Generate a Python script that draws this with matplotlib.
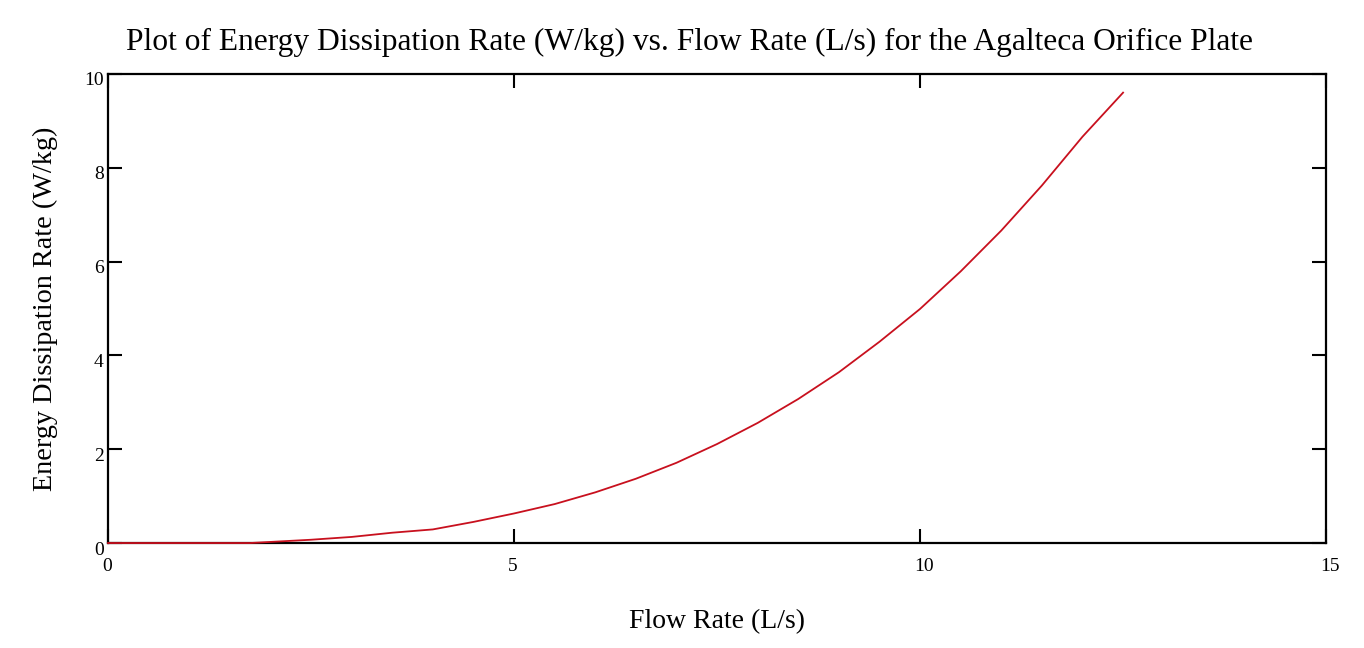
import numpy as np
import matplotlib
matplotlib.use('Agg')
import matplotlib.pyplot as plt
from matplotlib.transforms import ScaledTranslation

# values
flow = [0, 1.75, 2.5, 3, 3.5, 4, 4.5, 5, 5.5, 6, 6.5, 7, 7.5, 8, 8.5,
        9, 9.5, 10, 10.5, 11, 11.5, 12, 12.5]
edr = [0, 0, 0.07, 0.13, 0.22, 0.29, 0.45, 0.63, 0.83, 1.08, 1.37, 1.71,
       2.11, 2.56, 3.07, 3.64, 4.29, 4.99, 5.79, 6.66, 7.62, 8.66, 9.6]

xticks = [0, 5, 10, 15]
yticks = [0, 2, 4, 6, 8, 10]

plt.rcParams['font.family'] = ['Liberation Serif', 'DejaVu Serif']

fig = plt.figure(figsize=(13.64, 6.48), dpi=100)
ax = fig.add_axes([0.0792, 0.162, 0.893, 0.724])

ax.plot(flow, edr, color='#c8101e', lw=1.3, zorder=5, clip_on=False)

ax.set_xlim(0, 15)
ax.set_ylim(0, 10)
ax.set_xticks(xticks)
ax.set_yticks(yticks)
ax.tick_params(direction='in', length=10, width=1.5, labelsize=14,
               top=True, right=True)
ax.tick_params(axis='x', pad=11)
ax.tick_params(axis='y', pad=3)
for s in ax.spines.values():
    s.set_linewidth(1.6)

# x tick labels start at the tick, not centred on it
shift = ScaledTranslation(-6 / 100, 0, fig.dpi_scale_trans)
for lbl in ax.get_xticklabels():
    lbl.set_horizontalalignment('left')
    lbl.set_transform(lbl.get_transform() + shift)
# y tick labels sit a little below their ticks
for lbl in ax.get_yticklabels():
    lbl.set_transform(lbl.get_transform() + ScaledTranslation(0, -5 / 100, fig.dpi_scale_trans))

ax.set_xlabel('Flow Rate (L/s)', fontsize=20, labelpad=24)
ax.set_ylabel('Energy Dissipation Rate (W/kg)', fontsize=20.3, labelpad=19)
fig.text(689 / 1364, 1 - 42 / 648,
         'Plot of Energy Dissipation Rate (W/kg) vs. Flow Rate (L/s) for the Agalteca Orifice Plate',
         fontsize=22.7, ha='center', va='center')

fig.savefig('out.png', dpi=100)
